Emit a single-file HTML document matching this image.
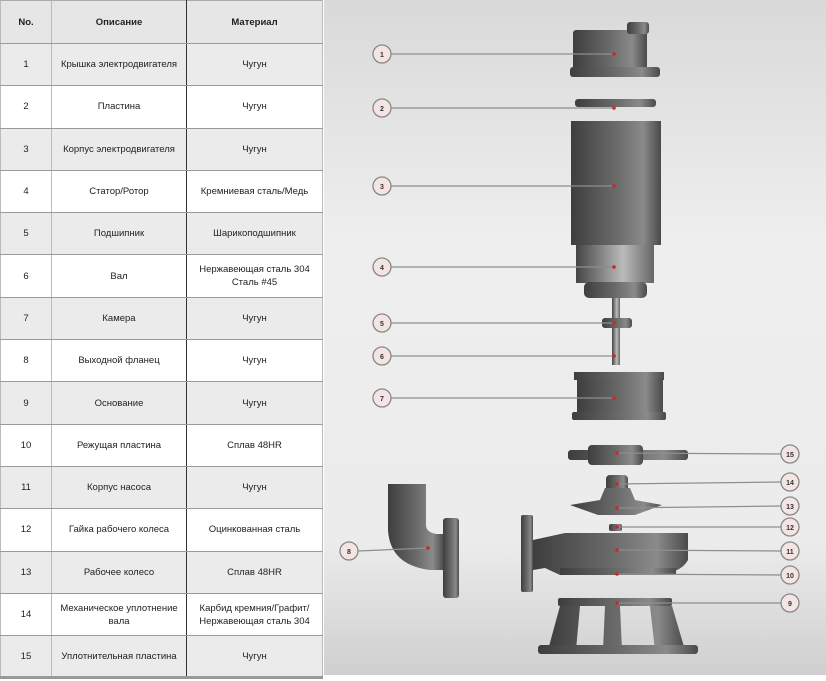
<!DOCTYPE html>
<html><head><meta charset="utf-8"><style>
body{margin:0;width:826px;height:681px;background:#fff;position:relative;overflow:hidden;font-family:"Liberation Sans",sans-serif}
table{position:absolute;left:0;top:0;width:323px;border-collapse:collapse;font-size:9.5px;color:#222}
td{height:42.3px;padding:0;text-align:center;border-bottom:1px solid #9a9a9a;line-height:13px;box-sizing:border-box}
tr:nth-child(even) td{background:#ebebeb}
tr:first-child td{background:#e6e6e6;font-weight:bold;height:43px;border-top:1px solid #aaa}
tr:last-child td{border-bottom:3px solid #999}
td.c1{width:51px;border-right:1px solid #bbb;border-left:1px solid #bbb}
td.c2{width:135px;border-right:1px solid #333}
td.c3{border-right:1px solid #bbb}
svg{position:absolute;left:324px;top:0}
</style></head><body>
<table>
<tr><td class="c1">No.</td><td class="c2">Описание</td><td class="c3">Материал</td></tr>
<tr><td class="c1">1</td><td class="c2">Крышка электродвигателя</td><td class="c3">Чугун</td></tr>
<tr><td class="c1">2</td><td class="c2">Пластина</td><td class="c3">Чугун</td></tr>
<tr><td class="c1">3</td><td class="c2">Корпус электродвигателя</td><td class="c3">Чугун</td></tr>
<tr><td class="c1">4</td><td class="c2">Статор/Ротор</td><td class="c3">Кремниевая сталь/Медь</td></tr>
<tr><td class="c1">5</td><td class="c2">Подшипник</td><td class="c3">Шарикоподшипник</td></tr>
<tr><td class="c1">6</td><td class="c2">Вал</td><td class="c3">Нержавеющая сталь 304<br>Сталь #45</td></tr>
<tr><td class="c1">7</td><td class="c2">Камера</td><td class="c3">Чугун</td></tr>
<tr><td class="c1">8</td><td class="c2">Выходной фланец</td><td class="c3">Чугун</td></tr>
<tr><td class="c1">9</td><td class="c2">Основание</td><td class="c3">Чугун</td></tr>
<tr><td class="c1">10</td><td class="c2">Режущая пластина</td><td class="c3">Сплав 48HR</td></tr>
<tr><td class="c1">11</td><td class="c2">Корпус насоса</td><td class="c3">Чугун</td></tr>
<tr><td class="c1">12</td><td class="c2">Гайка рабочего колеса</td><td class="c3">Оцинкованная сталь</td></tr>
<tr><td class="c1">13</td><td class="c2">Рабочее колесо</td><td class="c3">Сплав 48HR</td></tr>
<tr><td class="c1">14</td><td class="c2">Механическое уплотнение вала</td><td class="c3">Карбид кремния/Графит/<br>Нержавеющая сталь 304</td></tr>
<tr><td class="c1">15</td><td class="c2">Уплотнительная пластина</td><td class="c3">Чугун</td></tr>
</table>
<svg width="502" height="681" viewBox="324 0 502 681" xmlns="http://www.w3.org/2000/svg">
<defs>
<linearGradient id="bg" x1="0" y1="0" x2="0" y2="1"><stop offset="0" stop-color="#d9d9d9"/><stop offset="0.35" stop-color="#eeeeee"/><stop offset="0.8" stop-color="#ececec"/><stop offset="1" stop-color="#cfcfcf"/></linearGradient>
<linearGradient id="m" x1="0" y1="0" x2="1" y2="0"><stop offset="0" stop-color="#3e3e3e"/><stop offset="0.5" stop-color="#6a6a6a"/><stop offset="0.8" stop-color="#8a8a8a"/><stop offset="1" stop-color="#4a4a4a"/></linearGradient>
<linearGradient id="s" x1="0" y1="0" x2="1" y2="0"><stop offset="0" stop-color="#444"/><stop offset="0.6" stop-color="#bbb"/><stop offset="1" stop-color="#666"/></linearGradient>
</defs>
<rect x="324" y="0" width="502" height="675" fill="url(#bg)"/>
<g fill="url(#m)">
<rect x="573" y="30" width="74" height="40" rx="3"/><rect x="627" y="22" width="22" height="12" rx="3"/><rect x="570" y="67" width="90" height="10" rx="3"/>
<rect x="575" y="99" width="81" height="8" rx="3"/>
<rect x="571" y="121" width="90" height="124"/>
<rect x="576" y="245" width="78" height="38" fill="url(#s)"/><rect x="584" y="282" width="63" height="16" rx="5"/>
<rect x="612" y="298" width="8" height="67" fill="url(#s)"/><rect x="602" y="318" width="30" height="10" rx="3"/>
<rect x="574" y="372" width="90" height="8"/><rect x="577" y="378" width="86" height="36"/><rect x="572" y="412" width="94" height="8" rx="2"/>
<rect x="568" y="450" width="120" height="10" rx="3"/><rect x="588" y="445" width="55" height="20" rx="4"/>
<rect x="606" y="475" width="22" height="19" rx="4"/>
<path d="M570 505 L600 500 L605 488 L630 488 L635 500 L662 505 L635 515 L598 515 Z"/>
<rect x="609" y="524" width="13" height="7" rx="2"/>
<rect x="521" y="515" width="12" height="77" rx="2"/><path d="M533 540 L565 533 L688 533 L688 560 Q680 575 650 575 L560 575 L545 568 L533 570 Z"/><rect x="560" y="568" width="116" height="7"/>
<rect x="558" y="598" width="114" height="8" rx="2"/><path d="M560 606 L548 650 L576 650 L580 606 Z M650 606 L655 650 L685 650 L672 606 Z M605 606 L603 650 L622 650 L620 606 Z"/><rect x="538" y="645" width="160" height="9" rx="3"/>
<path d="M388 484 L426 484 L426 525 Q426 532 436 534 L444 534 L444 570 L430 570 Q390 565 388 530 Z"/><rect x="443" y="518" width="16" height="80" rx="3"/>
</g>
<g stroke="#8e8e8e" stroke-width="1.2" fill="none">
<line x1="391" y1="54" x2="614" y2="54"/><line x1="391" y1="108" x2="614" y2="108"/><line x1="391" y1="186" x2="614" y2="186"/><line x1="391" y1="267" x2="614" y2="267"/><line x1="391" y1="323" x2="614" y2="323"/><line x1="391" y1="356" x2="614" y2="356"/><line x1="391" y1="398" x2="614" y2="398"/>
<line x1="358" y1="551" x2="428" y2="548"/>
<line x1="617" y1="453" x2="781" y2="454"/><line x1="617" y1="484" x2="781" y2="482"/><line x1="617" y1="508" x2="781" y2="506"/><line x1="617" y1="527" x2="781" y2="527"/><line x1="617" y1="550" x2="781" y2="551"/><line x1="617" y1="574" x2="781" y2="575"/><line x1="617" y1="603" x2="781" y2="603"/>
</g>
<g fill="#d2232a">
<circle cx="614" cy="54" r="1.8"/><circle cx="614" cy="108" r="1.8"/><circle cx="614" cy="186" r="1.8"/><circle cx="614" cy="267" r="1.8"/><circle cx="614" cy="323" r="1.8"/><circle cx="614" cy="356" r="1.8"/><circle cx="614" cy="398" r="1.8"/><circle cx="428" cy="548" r="1.8"/>
<circle cx="617" cy="453" r="1.8"/><circle cx="617" cy="484" r="1.8"/><circle cx="617" cy="508" r="1.8"/><circle cx="617" cy="527" r="1.8"/><circle cx="617" cy="550" r="1.8"/><circle cx="617" cy="574" r="1.8"/><circle cx="617" cy="603" r="1.8"/>
</g>
<g fill="#f4e4e4" stroke="#888" stroke-width="1.3">
<circle cx="382" cy="54" r="9"/><circle cx="382" cy="108" r="9"/><circle cx="382" cy="186" r="9"/><circle cx="382" cy="267" r="9"/><circle cx="382" cy="323" r="9"/><circle cx="382" cy="356" r="9"/><circle cx="382" cy="398" r="9"/><circle cx="349" cy="551" r="9"/>
<circle cx="790" cy="454" r="9"/><circle cx="790" cy="482" r="9"/><circle cx="790" cy="506" r="9"/><circle cx="790" cy="527" r="9"/><circle cx="790" cy="551" r="9"/><circle cx="790" cy="575" r="9"/><circle cx="790" cy="603" r="9"/>
</g>
<g font-family="Liberation Sans" font-size="7" font-weight="bold" fill="#333" text-anchor="middle">
<text x="382" y="57">1</text><text x="382" y="111">2</text><text x="382" y="189">3</text><text x="382" y="270">4</text><text x="382" y="326">5</text><text x="382" y="359">6</text><text x="382" y="401">7</text><text x="349" y="554">8</text>
<text x="790" y="457">15</text><text x="790" y="485">14</text><text x="790" y="509">13</text><text x="790" y="530">12</text><text x="790" y="554">11</text><text x="790" y="578">10</text><text x="790" y="606">9</text>
</g>
</svg>
</body></html>
